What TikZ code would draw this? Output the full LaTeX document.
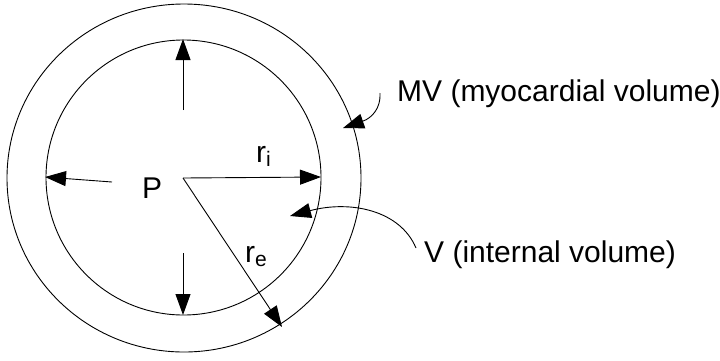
\documentclass[tikz,border=0pt]{standalone}
\usepackage{fontspec}
\setmainfont{Liberation Sans}
\usetikzlibrary{arrows.meta}
\tikzset{
  wall/.style={line width=0.9pt},
  arr/.style={line width=0.9pt,-{Triangle[length=21pt,width=15pt]}},
  lbl/.style={anchor=base west,inner sep=0pt,font=\fontsize{30}{31}\selectfont},
}
\begin{document}
\begin{tikzpicture}[x=1pt,y=-1pt]
\useasboundingbox (0,0) rectangle (720,360);
% circles
\draw[wall] (184,178) ellipse [x radius=177pt, y radius=174pt];
\draw[wall] (183.5,177.5) circle [radius=137.5pt];
% coordinates
\coordinate (c) at (183,178);
\coordinate (ri) at (321,177);
\coordinate (upS) at (183,110);
\coordinate (upE) at (183,39);
\coordinate (dnS) at (183,253);
\coordinate (dnE) at (183,315);
\coordinate (lfS) at (112,182);
\coordinate (lfE) at (45,177);
\coordinate (re) at (282,327);
\coordinate (mvS) at (380,93);
\coordinate (mvE) at (343,128);
\coordinate (vS) at (416,248);
\coordinate (vE) at (290,216);
% arrows
\draw[arr] (c) -- (ri);
\draw[arr] (upS) -- (upE);
\draw[arr] (dnS) -- (dnE);
\draw[arr] (lfS) -- (lfE);
\draw[arr] (c) -- (re);
\draw[arr] (mvS) .. controls (381,108) and (372,118) .. (mvE);
\draw[arr] (vS) .. controls (400,210) and (350,200) .. (vE);
% labels
\node[lbl] (P) at (142,198) {P};
\node[lbl] (rin) at (256,162) {r\raisebox{-4pt}{\fontsize{21}{21}\selectfont i}};
\node[lbl] (rex) at (245,262) {r\raisebox{-4pt}{\fontsize{21}{21}\selectfont e}};
\node[lbl] (mv) at (397,101) {MV (myocardial volume)};
\node[lbl] (v) at (424,262) {V (internal volume)};
\end{tikzpicture}
\end{document}
